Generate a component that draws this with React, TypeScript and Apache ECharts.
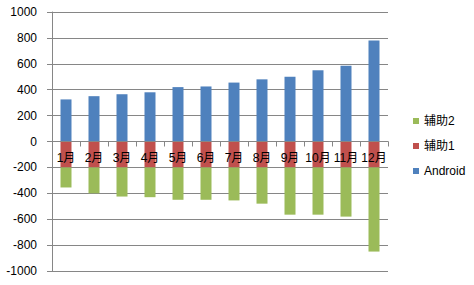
import React, { useEffect, useRef } from "react";
import * as echarts from "echarts";

const categories = ["1月", "2月", "3月", "4月", "5月", "6月", "7月", "8月", "9月", "10月", "11月", "12月"];
const androidValues = [325, 350, 365, 380, 420, 425, 455, 480, 500, 550, 585, 780];
const aux1Values = [-200, -200, -200, -200, -200, -200, -200, -200, -200, -200, -200, -200];
const aux2Values = [-155, -200, -225, -230, -250, -250, -255, -280, -365, -365, -380, -650];
const yTicks = { min: -1000, max: 1000, interval: 200 };

export default function App() {
  const ref = useRef<HTMLDivElement>(null);
  useEffect(() => {
    if (!ref.current) return;
    const chart = echarts.init(ref.current, undefined, { renderer: "svg" });
    const axisColor = "#868686";
    const font = "'Liberation Sans', Arial, 'Noto Sans CJK SC', sans-serif";
    const gridTop = 12;
    const gridHeight = 259;
    // distance from grid bottom to the value-axis zero line
    const zeroOffset = -gridHeight * (0 - yTicks.min) / (yTicks.max - yTicks.min);
    chart.setOption({
      animation: false,
      backgroundColor: "#ffffff",
      textStyle: { fontFamily: font },
      grid: { left: 52, top: gridTop, width: 336, height: gridHeight },
      legend: {
        data: ["辅助2", "辅助1", "Android"],
        orient: "vertical",
        left: 408,
        top: 110,
        icon: "rect",
        itemWidth: 6,
        itemHeight: 6,
        itemGap: 13,
        textStyle: { fontSize: 12, color: "#000", fontFamily: font, lineHeight: 12 },
      },
      xAxis: {
        type: "category",
        data: categories,
        z: 10,
        offset: zeroOffset,
        axisLine: { onZero: false, lineStyle: { color: axisColor, width: 1 } },
        axisTick: { show: true, length: 5, lineStyle: { color: axisColor } },
        axisLabel: { color: "#000", fontSize: 12, margin: 10, interval: 0, fontFamily: font },
      },
      yAxis: {
        type: "value",
        min: yTicks.min,
        max: yTicks.max,
        interval: yTicks.interval,
        axisLine: { show: true, lineStyle: { color: axisColor, width: 1 } },
        axisTick: { show: true, length: 5, lineStyle: { color: axisColor } },
        axisLabel: { color: "#000", fontSize: 12, margin: 15, fontFamily: font, formatter: (v: number) => String(v) },
        splitLine: { show: true, lineStyle: { color: axisColor, width: 1 } },
      },
      series: [
        { name: "Android", type: "bar", stack: "total", data: androidValues, barWidth: 11, itemStyle: { color: "#4F81BD" } },
        { name: "辅助1", type: "bar", stack: "total", data: aux1Values, barWidth: 11, itemStyle: { color: "#C0504D" } },
        { name: "辅助2", type: "bar", stack: "total", data: aux2Values, barWidth: 11, itemStyle: { color: "#9BBB59" } },
      ],
    });
    return () => chart.dispose();
  }, []);
  return <div ref={ref} style={{ position: "absolute", left: 0, top: 0, width: 474, height: 285 }} />;
}
